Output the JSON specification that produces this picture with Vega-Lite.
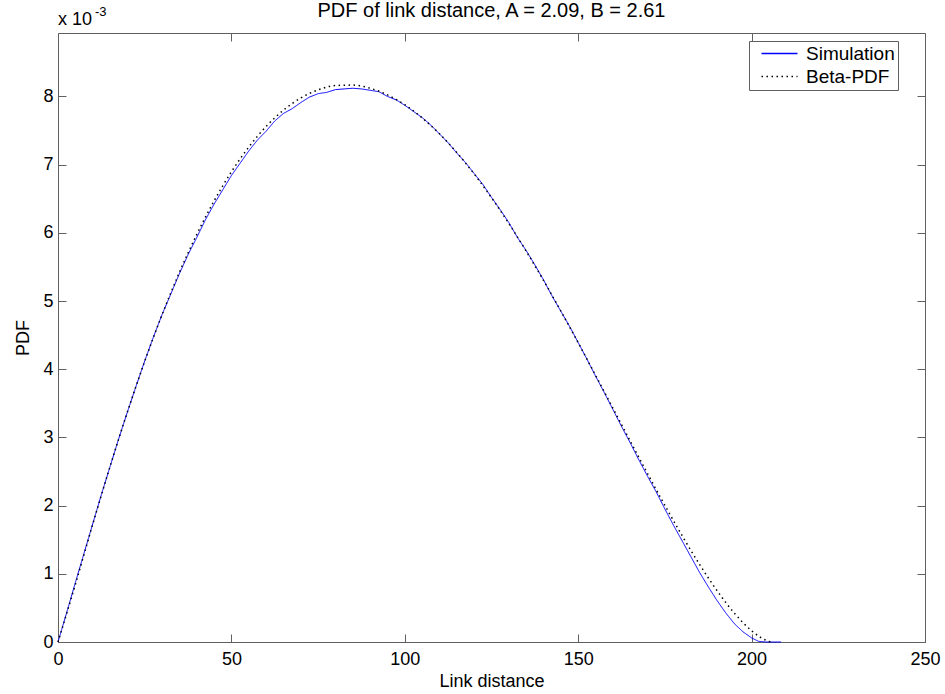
{
  "$schema": "https://vega.github.io/schema/vega-lite/v6.json",
  "width": 867,
  "height": 609,
  "autosize": "none",
  "padding": {"left": 58, "top": 33, "right": 20, "bottom": 52},
  "background": "white",
  "config": {
    "font": "Liberation Sans",
    "view": {"stroke": "#606060", "strokeWidth": 1},
    "axis": {
      "grid": false,
      "domain": false,
      "tickSize": -8,
      "tickColor": "#606060",
      "labelColor": "black",
      "labelFontSize": 18,
      "labelFont": "Liberation Sans",
      "titleFont": "Liberation Sans",
      "titleFontSize": 18,
      "titleFontWeight": "normal",
      "titleColor": "black",
      "labelFlush": false,
      "labelOverlap": false
    }
  },
  "title": {
    "text": "PDF of link distance, A = 2.09, B = 2.61",
    "fontSize": 20,
    "fontWeight": "normal",
    "font": "Liberation Sans",
    "color": "black",
    "offset": -15
  },
  "datasets": {
    "sim": [
      {"d": 0, "pdf": 0},
      {"d": 2.5, "pdf": 0.00043},
      {"d": 5, "pdf": 0.00087},
      {"d": 7.5, "pdf": 0.0013},
      {"d": 10, "pdf": 0.00173},
      {"d": 12.5, "pdf": 0.00216},
      {"d": 15, "pdf": 0.00257},
      {"d": 17.5, "pdf": 0.00298},
      {"d": 20, "pdf": 0.00337},
      {"d": 22.5, "pdf": 0.00375},
      {"d": 25, "pdf": 0.00412},
      {"d": 27.5, "pdf": 0.00447},
      {"d": 30, "pdf": 0.0048},
      {"d": 32.5, "pdf": 0.0051},
      {"d": 35, "pdf": 0.0054},
      {"d": 37.5, "pdf": 0.00568},
      {"d": 40, "pdf": 0.00593},
      {"d": 42.5, "pdf": 0.00619},
      {"d": 45, "pdf": 0.00642},
      {"d": 47.5, "pdf": 0.00663},
      {"d": 50, "pdf": 0.00684},
      {"d": 52.5, "pdf": 0.00702},
      {"d": 55, "pdf": 0.0072},
      {"d": 57.5, "pdf": 0.00736},
      {"d": 60, "pdf": 0.00749},
      {"d": 62.5, "pdf": 0.00764},
      {"d": 65, "pdf": 0.00775},
      {"d": 67.5, "pdf": 0.00782},
      {"d": 70, "pdf": 0.00791},
      {"d": 72.5, "pdf": 0.00799},
      {"d": 75, "pdf": 0.00804},
      {"d": 77.5, "pdf": 0.00806},
      {"d": 80, "pdf": 0.0081},
      {"d": 82.5, "pdf": 0.00811},
      {"d": 85, "pdf": 0.00812},
      {"d": 87.5, "pdf": 0.00811},
      {"d": 90, "pdf": 0.00809},
      {"d": 92.5, "pdf": 0.00807},
      {"d": 95, "pdf": 0.008},
      {"d": 97.5, "pdf": 0.00795},
      {"d": 100, "pdf": 0.00787},
      {"d": 102.5, "pdf": 0.00778},
      {"d": 105, "pdf": 0.00769},
      {"d": 107.5, "pdf": 0.00758},
      {"d": 110, "pdf": 0.00745},
      {"d": 112.5, "pdf": 0.00732},
      {"d": 115, "pdf": 0.00717},
      {"d": 117.5, "pdf": 0.00703},
      {"d": 120, "pdf": 0.00687},
      {"d": 122.5, "pdf": 0.00671},
      {"d": 125, "pdf": 0.00652},
      {"d": 127.5, "pdf": 0.00634},
      {"d": 130, "pdf": 0.00615},
      {"d": 132.5, "pdf": 0.00593},
      {"d": 135, "pdf": 0.00574},
      {"d": 137.5, "pdf": 0.00553},
      {"d": 140, "pdf": 0.00531},
      {"d": 142.5, "pdf": 0.00507},
      {"d": 145, "pdf": 0.00485},
      {"d": 147.5, "pdf": 0.00463},
      {"d": 150, "pdf": 0.00439},
      {"d": 152.5, "pdf": 0.00415},
      {"d": 155, "pdf": 0.0039},
      {"d": 157.5, "pdf": 0.00366},
      {"d": 160, "pdf": 0.00341},
      {"d": 162.5, "pdf": 0.00316},
      {"d": 165, "pdf": 0.00292},
      {"d": 167.5, "pdf": 0.00267},
      {"d": 170, "pdf": 0.00243},
      {"d": 172.5, "pdf": 0.0022},
      {"d": 175, "pdf": 0.00195},
      {"d": 177.5, "pdf": 0.00171},
      {"d": 180, "pdf": 0.00148},
      {"d": 182.5, "pdf": 0.00125},
      {"d": 185, "pdf": 0.00102},
      {"d": 187.5, "pdf": 0.00081},
      {"d": 190, "pdf": 0.00061},
      {"d": 192.5, "pdf": 0.00043},
      {"d": 195, "pdf": 0.00027},
      {"d": 197.5, "pdf": 0.00015},
      {"d": 200, "pdf": 0.00006},
      {"d": 202, "pdf": 0.00001},
      {"d": 204, "pdf": 0},
      {"d": 208.5, "pdf": 0}
    ],
    "beta": [
      {"d": 0, "pdf": 0},
      {"d": 5, "pdf": 0.000843},
      {"d": 10, "pdf": 0.001723},
      {"d": 15, "pdf": 0.002571},
      {"d": 20, "pdf": 0.003371},
      {"d": 25, "pdf": 0.004115},
      {"d": 30, "pdf": 0.004798},
      {"d": 35, "pdf": 0.005419},
      {"d": 40, "pdf": 0.005975},
      {"d": 45, "pdf": 0.006467},
      {"d": 50, "pdf": 0.006894},
      {"d": 55, "pdf": 0.007257},
      {"d": 60, "pdf": 0.007559},
      {"d": 65, "pdf": 0.007798},
      {"d": 70, "pdf": 0.007977},
      {"d": 75, "pdf": 0.008096},
      {"d": 80, "pdf": 0.008159},
      {"d": 85, "pdf": 0.008166},
      {"d": 90, "pdf": 0.00812},
      {"d": 95, "pdf": 0.008023},
      {"d": 100, "pdf": 0.007878},
      {"d": 105, "pdf": 0.007686},
      {"d": 110, "pdf": 0.007452},
      {"d": 115, "pdf": 0.007176},
      {"d": 120, "pdf": 0.006863},
      {"d": 125, "pdf": 0.006515},
      {"d": 130, "pdf": 0.006137},
      {"d": 135, "pdf": 0.005731},
      {"d": 140, "pdf": 0.005302},
      {"d": 145, "pdf": 0.004852},
      {"d": 150, "pdf": 0.004388},
      {"d": 155, "pdf": 0.003911},
      {"d": 160, "pdf": 0.003429},
      {"d": 165, "pdf": 0.002946},
      {"d": 170, "pdf": 0.002469},
      {"d": 175, "pdf": 0.002003},
      {"d": 180, "pdf": 0.001556},
      {"d": 185, "pdf": 0.001137},
      {"d": 190, "pdf": 0.000756},
      {"d": 195, "pdf": 0.000425},
      {"d": 200, "pdf": 0.000165},
      {"d": 202.5, "pdf": 0.00007},
      {"d": 205, "pdf": 0.0000095},
      {"d": 206, "pdf": 0}
    ],
    "note": [{"label": "x 10", "exp": "-3"}]
  },
  "layer": [
    {
      "data": {"name": "sim"},
      "transform": [{"calculate": "'Simulation'", "as": "series"}],
      "mark": {"type": "line", "strokeWidth": 1, "interpolate": "linear"},
      "encoding": {
        "x": {
          "field": "d", "type": "quantitative",
          "scale": {"domain": [0, 250], "nice": false, "zero": false},
          "axis": {"orient": "bottom", "values": [0, 50, 100, 150, 200, 250], "title": "Link distance", "labelPadding": 16, "titlePadding": 4}
        },
        "y": {
          "field": "pdf", "type": "quantitative",
          "scale": {"domain": [0, 0.00893], "nice": false, "zero": false},
          "axis": {"orient": "left", "values": [0, 0.001, 0.002, 0.003, 0.004, 0.005, 0.006, 0.007, 0.008], "labelExpr": "format(datum.value*1000, 'd')", "title": "PDF", "labelPadding": 13, "titlePadding": 10}
        },
        "color": {
          "field": "series", "type": "nominal",
          "scale": {"domain": ["Simulation", "Beta-PDF"], "range": ["#0000ff", "#000000"]},
          "legend": {
            "title": null, "orient": "none", "legendX": 691, "legendY": 8,
            "symbolType": "M-1,0H5", "symbolSize": 144, "symbolStrokeWidth": 1.3,
            "labelFontSize": 19, "labelColor": "black", "labelOffset": 29,
            "padding": 3, "symbolOffset": 6, "rowPadding": 3,
            "strokeColor": "#606060", "fillColor": "white",
            "labelExpr": "datum.label + '\u00a0\u00a0\u00a0'"
          }
        },
        "strokeDash": {
          "field": "series", "type": "nominal",
          "scale": {"domain": ["Simulation", "Beta-PDF"], "range": [[1, 0], [1.5, 3.5]]},
          "legend": {
            "title": null, "orient": "none", "legendX": 691, "legendY": 8,
            "symbolType": "M-1,0H5", "symbolSize": 144, "symbolStrokeWidth": 1.3,
            "labelFontSize": 19, "labelColor": "black", "labelOffset": 29,
            "padding": 3, "symbolOffset": 6, "rowPadding": 3,
            "strokeColor": "#606060", "fillColor": "white",
            "labelExpr": "datum.label + '\u00a0\u00a0\u00a0'"
          }
        }
      }
    },
    {
      "data": {"name": "beta"},
      "transform": [{"calculate": "'Beta-PDF'", "as": "series"}],
      "mark": {"type": "line", "strokeWidth": 1.5, "interpolate": "monotone"},
      "encoding": {
        "x": {
          "field": "d", "type": "quantitative",
          "axis": {"orient": "top", "values": [0, 50, 100, 150, 200, 250], "labels": false, "title": null}
        },
        "y": {
          "field": "pdf", "type": "quantitative",
          "axis": {"orient": "right", "values": [0, 0.001, 0.002, 0.003, 0.004, 0.005, 0.006, 0.007, 0.008], "labels": false, "title": null}
        },
        "color": {"field": "series", "type": "nominal"},
        "strokeDash": {"field": "series", "type": "nominal"}
      }
    },
    {
      "data": {"name": "note"},
      "mark": {"type": "text", "align": "left", "baseline": "alphabetic", "fontSize": 18, "color": "black", "dx": 0, "dy": -8},
      "encoding": {
        "x": {"datum": 0, "type": "quantitative", "axis": null},
        "y": {"datum": 0.00893, "type": "quantitative", "axis": null},
        "text": {"field": "label"}
      }
    },
    {
      "data": {"name": "note"},
      "mark": {"type": "text", "align": "left", "baseline": "alphabetic", "fontSize": 13, "color": "black", "dx": 37, "dy": -17},
      "encoding": {
        "x": {"datum": 0, "type": "quantitative", "axis": null},
        "y": {"datum": 0.00893, "type": "quantitative", "axis": null},
        "text": {"field": "exp"}
      }
    }
  ],
  "resolve": {"axis": {"x": "independent", "y": "independent"}}
}
